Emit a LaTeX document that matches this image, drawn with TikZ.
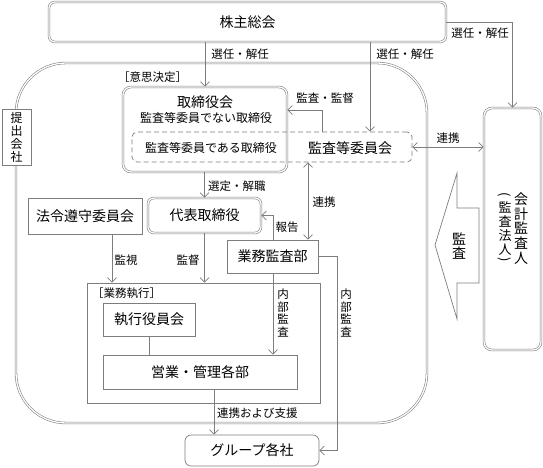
\documentclass[tikz,border=0pt]{standalone}
\usepackage{fontspec}
\setmainfont{Noto Sans CJK JP}
\usetikzlibrary{arrows.meta}
\definecolor{linegray}{RGB}{125,125,125}
\tikzset{
  ln/.style={draw=linegray, line width=0.7pt},
  dbl/.style={draw=linegray, double=white, double distance=1.3pt, line width=0.55pt},
  arr/.style={ln, -{Straight Barb[length=4.5pt,width=9pt]}},
  arrb/.style={ln, {Straight Barb[length=4.5pt,width=9pt]}-{Straight Barb[length=4.5pt,width=9pt]}},
  boxs/.style={ln, fill=white, inner sep=0pt},
  boxd/.style={dbl, fill=white, inner sep=0pt},
  big/.style={font=\fontsize{14}{16}\selectfont},
  mid/.style={font=\fontsize{12}{14}\selectfont},
  lbl/.style={font=\fontsize{11.5}{13}\selectfont, inner sep=0pt},
  vlbl/.style={font=\fontsize{11.5}{12.5}\selectfont, inner sep=0pt, align=center},
}
\begin{document}
\begin{tikzpicture}[x=1pt,y=-1pt]
\useasboundingbox (0,0) rectangle (543,467);
% big region
\draw[dbl, rounded corners=50pt] (16,63) -- (427,63) -- (427,423) -- (16,423) -- cycle;
% top box
\node[boxd, rounded corners=6pt, minimum width=397pt, minimum height=40pt, big] (top) at (247.5,22) {株主総会};
% submitting company
\node[boxs, minimum width=29pt, minimum height=56pt, align=center, font=\fontsize{12}{13}\selectfont] (teishutsu) at (16.5,137) {提\\出\\会\\社};
% board
\node[boxd, rounded corners=8pt, minimum width=164pt, minimum height=85pt] (tori) at (205,129.5) {};
\node[big, inner sep=0pt] (toriT) at (205,102) {取締役会};
\node[mid, inner sep=0pt] (toriN) at (206,118) {監査等委員でない取締役};
\node[ln, dashed, dash pattern=on 5pt off 3pt, rounded corners=5pt, minimum width=280pt, minimum height=30pt, inner sep=0pt] (dash) at (272,147) {};
\node[mid, inner sep=0pt] (toriA) at (211,148) {監査等委員である取締役};
\node[big, inner sep=0pt] (kansaiin) at (350,148) {監査等委員会};
% auditor
\node[boxd, rounded corners=8pt, minimum width=57pt, minimum height=242pt] (kaikei) at (512.5,229) {};
\node[align=center, inner sep=0pt, font=\fontsize{14}{14.6}\selectfont] (kaikeiT) at (521,228.5) {会\\計\\監\\査\\人};
\node[align=center, inner sep=0pt, font=\fontsize{13}{14}\selectfont] (hojinT) at (505,228.5) {監\\査\\法\\人};
\node[inner sep=0pt, font=\fontsize{13}{14}\selectfont] (parL) at (505,196) {\rotatebox[origin=c]{-90}{(}};
\node[inner sep=0pt, font=\fontsize{13}{14}\selectfont] (parR) at (505,261) {\rotatebox[origin=c]{-90}{)}};
% audit arrow shape
\draw[ln] (435,245) -- (457,173) -- (457,208) -- (479,208) -- (479,283) -- (457,283) -- (457,319) -- cycle;
\node[align=center, inner sep=0pt, font=\fontsize{14}{14.5}\selectfont] (kansaT) at (459,246) {監\\査};
% second row
\node[boxs, minimum width=114pt, minimum height=36pt, big] (hourei) at (85,216) {法令遵守委員会};
\node[boxd, rounded corners=6pt, minimum width=113pt, minimum height=35pt, big] (daihyo) at (204.5,215.5) {代表取締役};
\node[boxs, minimum width=91pt, minimum height=33pt, big] (gyomu) at (272.5,256.5) {業務監査部};
% execution
\node[boxs, minimum width=233pt, minimum height=120pt] (shikko) at (203.5,343) {};
\node[lbl, anchor=west] (shikkoL) at (92,293) {［業務執行］};
\node[lbl, anchor=west] (ishiL) at (118,77) {［意思決定］};
\node[boxs, minimum width=92pt, minimum height=33pt, big] (yakuin) at (149,319.5) {執行役員会};
\node[boxs, minimum width=194pt, minimum height=34pt, big] (eigyo) at (200,372) {営業・管理各部};
\node[boxs, rounded corners=6pt, minimum width=134pt, minimum height=31pt, big] (group) at (252,450.5) {グループ各社};
% connectors
\draw[arr] (top.east) -| (kaikei.north);
\node[lbl] (l1) at (480,33) {選任・解任};
\draw[arr] (top.south -| tori.north) -- (tori.north);
\node[lbl] (l2) at (240,54) {選任・解任};
\draw[arr] (top.south -| 370,0) -- (370,0 |- dash.north);
\node[lbl] (l3) at (405,54) {選任・解任};
\draw[arr] (322,0 |- dash.north) |- (tori.east |- 0,110);
\node[lbl] (l4) at (325,98) {監査・監督};
\draw[arrb] (dash.east) -- (dash.east -| kaikei.west);
\node[lbl] (l5) at (448,138) {連携};
\draw[arr] (tori.south -| daihyo.north) -- (daihyo.north);
\node[lbl, anchor=west] (l6) at (208,186) {選定・解職};
\draw[arrb] (308,0 |- dash.south) -- (308,0 |- gyomu.north);
\node[lbl] (l7) at (324,202) {連携};
\draw[arr] (273,0 |- gyomu.north) |- (daihyo.east);
\node[lbl] (l8) at (287,227) {報告};
\draw[arr] (112,0 |- hourei.south) -- (112,0 |- shikko.north);
\node[lbl] (l9) at (126,260) {監視};
\draw[arr] (daihyo.south) -- (daihyo.south |- shikko.north);
\node[lbl] (l10) at (188,260) {監督};
\draw[ln] (yakuin.south) -- (yakuin.south |- eigyo.north);
\draw[arr] (273,0 |- gyomu.south) -- (273,0 |- eigyo.north);
\node[vlbl] (l11) at (283,313) {内\\部\\監\\査};
\draw[arr] (gyomu.east) -| (337,0 |- group.east) -- (group.east);
\node[vlbl] (l12) at (346,313) {内\\部\\監\\査};
\draw[arr] (214,0 |- eigyo.south) -- (214,0 |- group.north);
\node[lbl, anchor=west] (l13) at (217,413) {連携および支援};
\end{tikzpicture}
\end{document}
